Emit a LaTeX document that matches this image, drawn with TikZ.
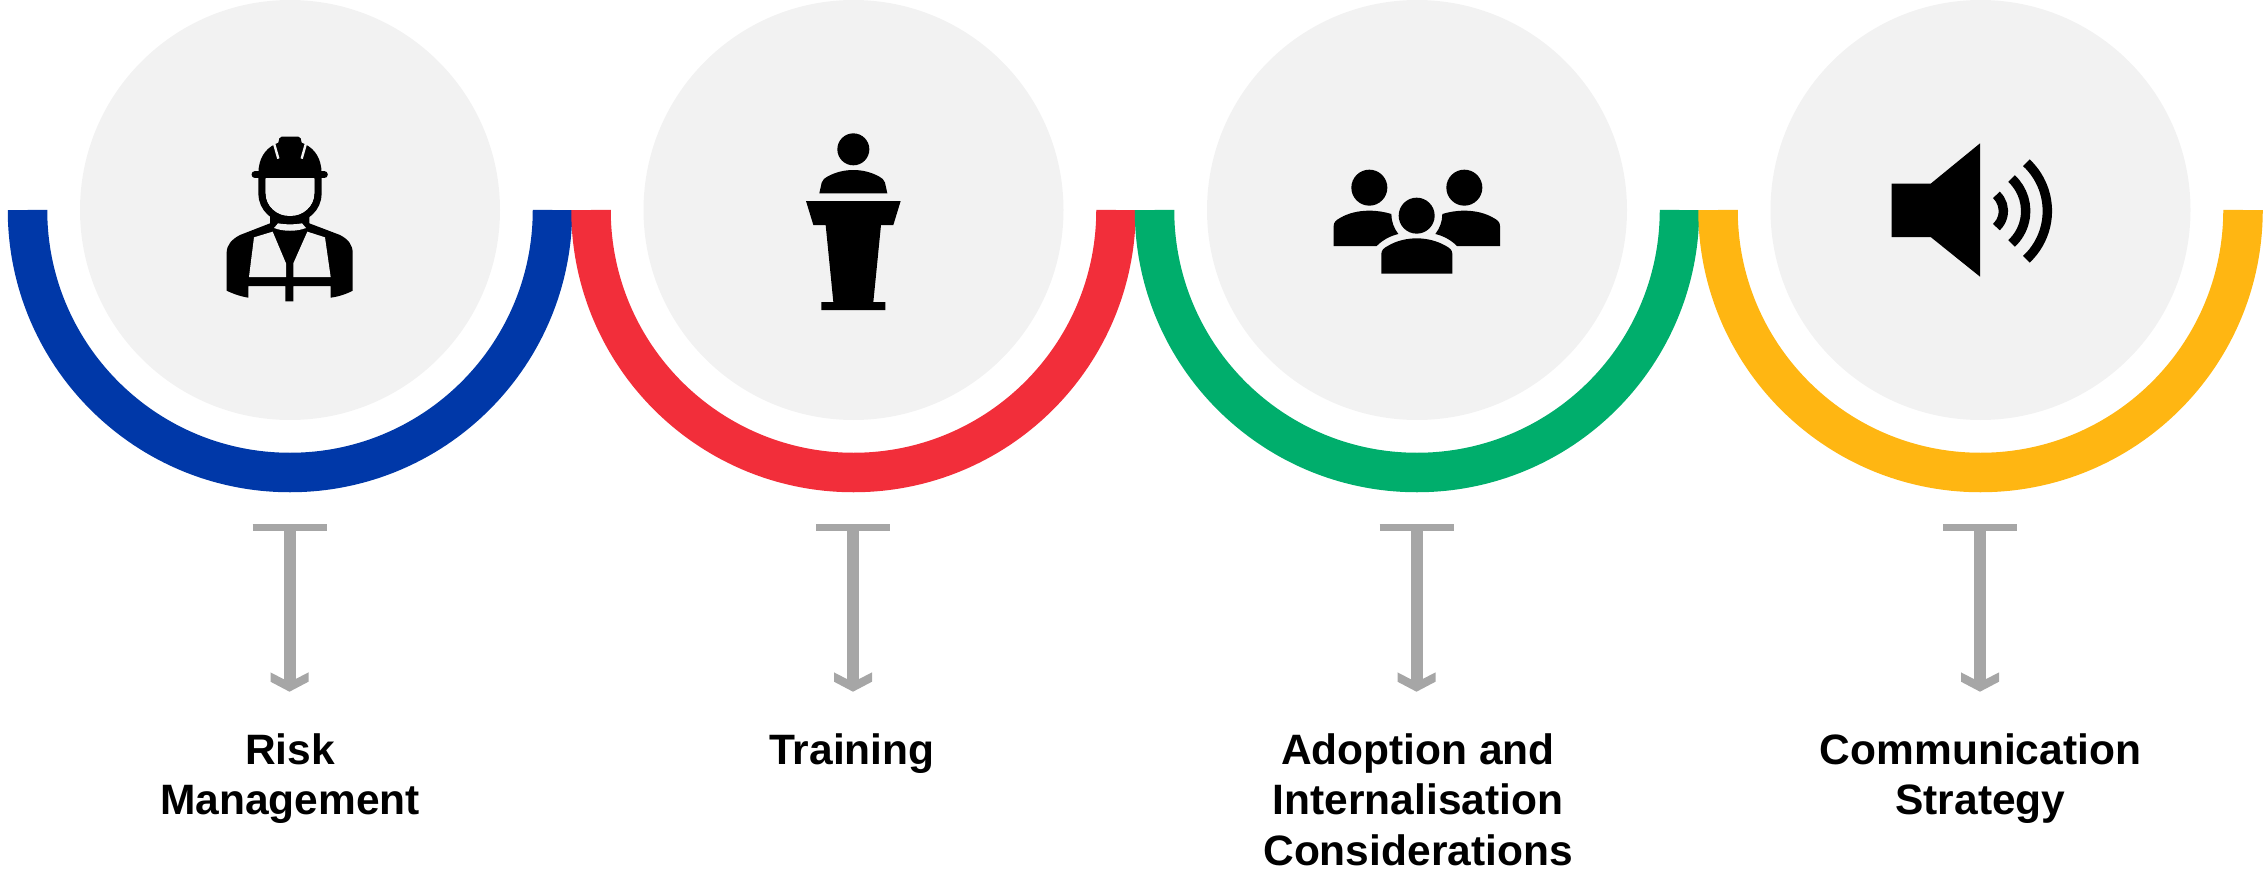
\documentclass[tikz,border=0pt]{standalone}
\usepackage{fontspec}
\setmainfont{Liberation Sans}
\usetikzlibrary{arrows.meta}
\definecolor{cblue}{HTML}{0038A8}
\definecolor{cred}{HTML}{F22E3A}
\definecolor{cgreen}{HTML}{00AE6C}
\definecolor{cyellow}{HTML}{FFB612}
\definecolor{discgray}{HTML}{F2F2F2}
\definecolor{conngray}{HTML}{A6A6A6}
\pgfdeclarearrow{
  name=Chev,
  setup code={
    \pgfarrowssettipend{0pt}
    \pgfarrowssetlineend{-5.5pt}
    \pgfarrowssetvisualbackend{-9.67pt}
    \pgfarrowssetbackend{-9.67pt}
    \pgfarrowshullpoint{0pt}{0pt}
    \pgfarrowshullpoint{-9.67pt}{9.5pt}
    \pgfarrowshullpoint{-9.67pt}{-9.5pt}
  },
  drawing code={
    \pgfpathmoveto{\pgfqpoint{0pt}{0pt}}
    \pgfpathlineto{\pgfqpoint{-5pt}{9.5pt}}
    \pgfpathlineto{\pgfqpoint{-9.67pt}{9.5pt}}
    \pgfpathlineto{\pgfqpoint{-6.3pt}{3pt}}
    \pgfpathlineto{\pgfqpoint{-6.3pt}{-3pt}}
    \pgfpathlineto{\pgfqpoint{-9.67pt}{-9.5pt}}
    \pgfpathlineto{\pgfqpoint{-5pt}{-9.5pt}}
    \pgfpathclose
    \pgfusepathqfill
  }
}
\tikzset{
  disc/.style={circle,fill=discgray,draw=none,minimum size=210pt,inner sep=0pt},
  ring/.style={line width=19.75pt,line cap=butt},
  barline/.style={draw=conngray,line width=3.3pt},
  stemline/.style={draw=conngray,fill=conngray,line width=6pt,-{Chev}},
  label/.style={anchor=north,align=center,inner sep=0pt,
    font=\fontsize{21.25}{25.3}\selectfont\bfseries},
  zoomed/.style={x=0.16667pt,y=-0.16667pt},
  ink/.style={fill=black,draw=none}
}
\begin{document}
\begin{tikzpicture}[x=0.5pt,y=-0.5pt]
\useasboundingbox (0,0) rectangle (2266,872);
% discs
\node[disc] (c1) at (290,210) {};
\node[disc] (c2) at (853.5,210) {};
\node[disc] (c3) at (1417,210) {};
\node[disc] (c4) at (1980.5,210) {};
% rings
\draw[ring,cblue] (27.5,210) arc[start angle=180,end angle=0,radius=262.5];
\draw[ring,cred] (591,210) arc[start angle=180,end angle=0,radius=262.5];
\draw[ring,cgreen] (1154.5,210) arc[start angle=180,end angle=0,radius=262.5];
\draw[ring,cyellow] (1718,210) arc[start angle=180,end angle=0,radius=262.5];
% connectors
\foreach \n/\x in {1/289.5,2/853,3/1416.5,4/1980}{
  \coordinate (bl\n) at (\x-37,527.3);
  \coordinate (br\n) at (\x+37,527.3);
  \coordinate (st\n) at (\x,527.3);
  \coordinate (en\n) at (\x,691.7);
  \draw[barline] (bl\n) -- (br\n);
  \draw[stemline] (st\n) -- (en\n);
}
% labels
\node[label] (t1) at (290,733) {Risk\\Management};
\node[label] (t2) at (852,733) {Training};
\node[label] (t3) at (1418,733) {Adoption and\\Internalisation\\Considerations};
\node[label] (t4) at (1980.5,733) {Communication\\Strategy};
% worker icon
\begin{scope}[shift={(200,120)},zoomed]
  \fill[ink] (175,160) .. controls (176,115) and (195,88) .. (224,73)
    -- (235,68) -- (238,55) -- (245,50) -- (295,50) -- (302,55) -- (305,68) -- (316,73)
    .. controls (345,88) and (364,115) .. (365,160) -- cycle;
  \draw[discgray,line width=1.2pt] (222,70) -- (235,116);
  \draw[discgray,line width=1.2pt] (318,70) -- (305,116);
  \draw[black,line width=3.5pt,line cap=round] (165,164) -- (373,164);
  \draw[black,line width=3.7pt] (186,172) -- (186,220)
    .. controls (186,265) and (225,299) .. (270,299)
    .. controls (315,299) and (354,265) .. (354,220) -- (354,172);
  \fill[ink] (210,285) -- (210,310) -- (120,345) .. controls (95,358) and (80,375) .. (80,398)
    -- (80,512) .. controls (100,522) and (125,530) .. (145,533)
    -- (145,498) -- (256,498) -- (256,544) -- (280,544) -- (280,498) -- (392,498)
    -- (392,533) .. controls (415,530) and (440,522) .. (458,512)
    -- (458,398) .. controls (458,375) and (445,358) .. (420,345)
    -- (328,310) -- (328,285) -- cycle;
  \fill[discgray] (147,471) -- (162,352) -- (218,335) -- (258,430) -- (258,471) -- cycle;
  \fill[discgray] (280,471) -- (280,430) -- (322,335) -- (375,352) -- (392,471) -- cycle;
  \fill[discgray] (234,310) .. controls (255,314) and (285,314) .. (306,310)
    -- (318,324) .. controls (290,335) and (250,335) .. (222,324) -- cycle;
  \fill[discgray] (197,177) -- (343,177) -- (343,220)
    .. controls (343,258) and (310,288) .. (270,288)
    .. controls (230,288) and (197,258) .. (197,220) -- cycle;
\end{scope}
% lectern icon
\begin{scope}[shift={(780,120)},zoomed]
  \fill[ink] (220,88) circle[radius=48];
  \fill[ink] (118,220) -- (125,188) .. controls (128,178) and (135,174) .. (142,170)
    .. controls (165,157) and (192,150) .. (220,150)
    .. controls (248,150) and (275,157) .. (298,170)
    .. controls (305,174) and (312,178) .. (315,188) -- (322,220) -- cycle;
  \fill[ink] (78,243) -- (362,243) -- (340,315) -- (303,315) -- (280,546) -- (316,546)
    -- (316,570) -- (124,570) -- (124,546) -- (160,546) -- (137,315) -- (100,315) -- cycle;
\end{scope}
% people icon
\begin{scope}[shift={(1320,150)},zoomed]
  \fill[ink] (148,113) circle[radius=54];
  \fill[ink] (433,113) circle[radius=54];
  \fill[ink] (290,197) circle[radius=54];
  \fill[ink] (184,371) -- (184,312) .. controls (184,300) and (192,294) .. (203,288)
    .. controls (228,273) and (258,265) .. (290,265)
    .. controls (322,265) and (352,273) .. (378,288)
    .. controls (389,294) and (397,300) .. (397,312) -- (397,371) -- cycle;
  \fill[ink] (41,288) -- (41,228) .. controls (41,216) and (49,210) .. (60,204)
    .. controls (85,189) and (116,182) .. (148,182)
    .. controls (172,182) and (195,186) .. (214,192)
    .. controls (214,215) and (222,235) .. (235,252)
    .. controls (210,258) and (188,270) .. (170,288) -- cycle;
  \fill[ink] (540,288) -- (540,228) .. controls (540,216) and (532,210) .. (521,204)
    .. controls (496,189) and (465,182) .. (433,182)
    .. controls (409,182) and (386,186) .. (367,192)
    .. controls (367,215) and (359,235) .. (346,252)
    .. controls (371,258) and (393,270) .. (411,288) -- cycle;
\end{scope}
% speaker icon
\begin{scope}[shift={(1870,130)},zoomed]
  \fill[ink] (65,161) -- (182,161) -- (330,40) -- (330,440) -- (182,321) -- (65,321) -- cycle;
  \foreach \r in {66,133,198}{
    \draw[black,line width=4.7pt] ([shift={(-47:\r)}]334,243)
      arc[start angle=-47,end angle=47,radius=\r];
  }
\end{scope}
\end{tikzpicture}
\end{document}
